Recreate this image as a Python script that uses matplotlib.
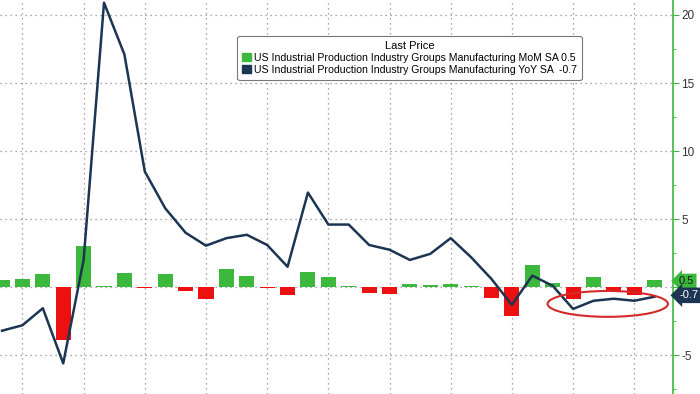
import matplotlib.pyplot as plt
import matplotlib.transforms as mtransforms
from matplotlib.patches import Patch, Ellipse
import numpy as np

# monthly data, Nov 2020 .. Jul 2023
mom = [0.55, 0.6, 1.0, -3.9, 3.05, 0.1, 1.05, -0.05, 1.0, -0.3, -0.9,
       1.3, 0.85, -0.05, -0.55, 1.15, 0.75, 0.1, -0.45, -0.5, 0.2, 0.15,
       0.2, 0.05, -0.8, -2.15, 1.65, 0.3, -0.9, 0.75, -0.3, -0.55, 0.5]
yoy = [-3.2, -2.8, -1.55, -5.6, 2.0, 20.9, 17.1, 8.5, 5.8, 4.0, 3.05,
       3.6, 3.85, 3.1, 1.5, 6.95, 4.6, 4.6, 3.1, 2.75, 2.0, 2.45,
       3.6, 2.2, 0.6, -1.3, 0.85, 0.1, -1.6, -1.0, -0.85, -1.0, -0.7]
yticks = [-5, 0, 5, 10, 15, 20]
ytick_labels = ["-5", "", "5", "10", "15", "20"]
legend_title = "Last Price"
label_mom = "US Industrial Production Industry Groups Manufacturing MoM SA 0.5"
label_yoy = "US Industrial Production Industry Groups Manufacturing YoY SA  -0.7"

GREEN = "#3cb93c"
RED = "#ec1010"
NAVY = "#1b3552"

plt.rcParams['font.family'] = ['Liberation Sans', 'DejaVu Sans']

fig = plt.figure(figsize=(7, 3.94), dpi=100)
ax = fig.add_axes([0, 0, 673 / 700, 1])

x = np.arange(len(mom))
colors = [GREEN if v >= 0 else RED for v in mom]
ax.bar(x, mom, width=0.74, color=colors, zorder=2)
ax.plot(x, yoy, color=NAVY, linewidth=1.8, zorder=3)

ax.set_xlim(-0.1, 32.9)
ax.set_ylim(-7.85, 21.1)

# grid
ax.set_xticks(np.arange(1, 33, 3))
ax.set_xticklabels([])
ax.set_yticks(yticks)
ax.set_yticklabels(ytick_labels)
ax.set_yticks(np.arange(-7.5, 21, 2.5), minor=True)
ax.grid(True, which='major', color='#8a8a8a', linestyle=(0, (1, 3)), linewidth=0.9, zorder=0)

for s in ['left', 'top', 'bottom']:
    ax.spines[s].set_visible(False)
ax.spines['right'].set_color(GREEN)
ax.spines['right'].set_linewidth(1.2)
ax.yaxis.tick_right()
ax.tick_params(axis='x', length=0)
ax.tick_params(axis='y', which='major', direction='out', length=4, color=GREEN,
               labelsize=8.5, labelcolor='#333333', pad=2)
ax.tick_params(axis='y', which='minor', direction='out', length=2.5, color=GREEN)

# last value tags on the right axis
tr = mtransforms.blended_transform_factory(ax.transAxes, ax.transData)
ax.text(1.009, 0.46, "0.5", transform=tr, fontsize=8, color='#1a1a1a',
        va='center', ha='left', zorder=6,
        bbox=dict(boxstyle='larrow,pad=0.2', fc=GREEN, ec='none'), clip_on=False)
ax.text(1.009, -0.6, "-0.7", transform=tr, fontsize=8, color='white',
        va='center', ha='left', zorder=6,
        bbox=dict(boxstyle='larrow,pad=0.25', fc=NAVY, ec='none'), clip_on=False)

# highlight ellipse
ax.add_patch(Ellipse((29.7, -1.23), 5.9, 1.9, fill=False, edgecolor='#d42a2a',
                     linewidth=1.5, zorder=4))

handles = [Patch(color=GREEN, label=label_mom), Patch(color=NAVY, label=label_yoy)]
leg = ax.legend(handles=handles, title=legend_title, loc='upper left',
                bbox_to_anchor=(0.345, 0.922), fontsize=7.6, title_fontsize=8,
                handlelength=0.8, handleheight=0.8, handletextpad=0.3,
                borderpad=0.45, labelspacing=0.2, framealpha=1,
                edgecolor='#777777', fancybox=True)
leg.get_frame().set_linewidth(0.8)

fig.savefig("out.png", dpi=100)
